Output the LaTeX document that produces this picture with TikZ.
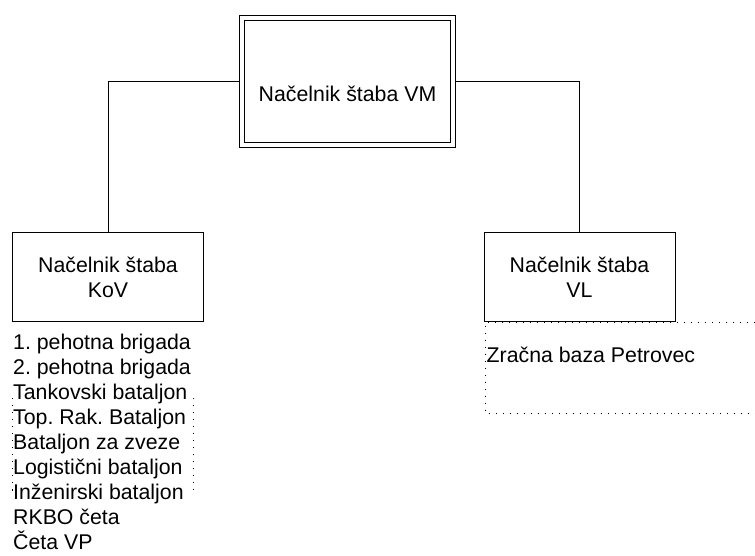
\documentclass[tikz,border=0pt]{standalone}
\usepackage{fontspec}
\setmainfont{Liberation Sans}
\frenchspacing
\begin{document}
\begin{tikzpicture}[
    x=1pt, y=-1pt,
    font=\fontsize{21.3pt}{25pt}\selectfont,
    every node/.style={inner sep=0pt},
    chief/.style={draw, line width=1pt, minimum width=191pt, minimum height=89pt, align=center},
    link/.style={line width=1pt},
    frame/.style={line width=1pt, dash pattern=on 1pt off 6pt}
]
    \useasboundingbox (0,0) rectangle (755,556);

    \node[
        draw,
        line width=1pt,
        double,
        double distance=4pt,
        outer sep=3pt,
        minimum width=211pt,
        minimum height=127pt,
        text height=45.4pt,
        text depth=5pt,
        name=vm
    ] at (347.5,81.5) {Načelnik štaba VM};

    \node[chief, name=kov] at (108,277) {Načelnik štaba\\KoV};
    \node[chief, name=vl] at (579.5,277) {Načelnik štaba\\VL};

    \draw[link] (vm.west) -| (kov.north);
    \draw[link] (vm.east) -| (vl.north);

    \draw[frame] (12.5,398) rectangle (193.5,490);
    \node[
        fill=white,
        align=left,
        anchor=base west,
        name=kovunits
    ] at (13,549.5) {1. pehotna brigada\\2. pehotna brigada\\Tankovski bataljon\\Top. Rak. Bataljon\\Bataljon za zveze\\Logistični bataljon\\Inženirski bataljon\\RKBO četa\\Četa VP};

    \draw[frame] (755,322.5) -- (485,322.5) -- (485,413) -- (755,413);
    \node[anchor=base west, name=vlunits] at (486.5,362) {Zračna baza Petrovec};
\end{tikzpicture}
\end{document}
